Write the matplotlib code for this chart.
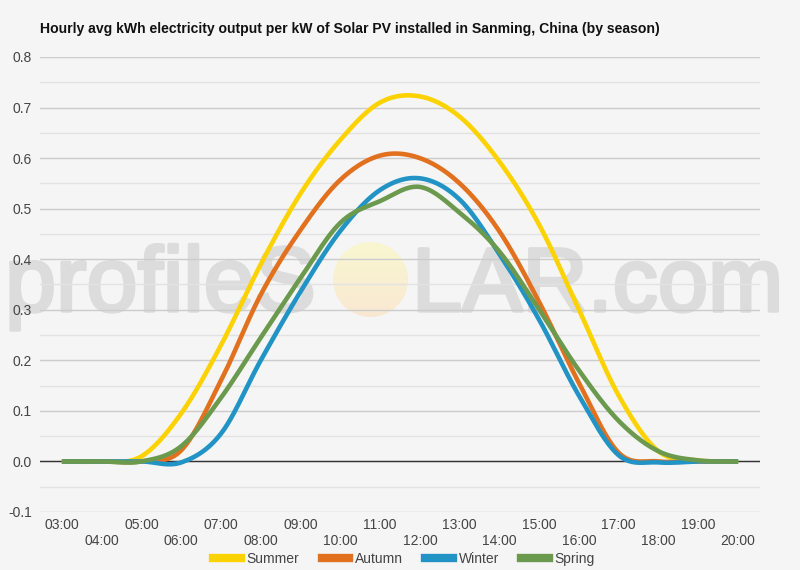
import numpy as np
import matplotlib
matplotlib.use('Agg')
import matplotlib.pyplot as plt
import matplotlib.patheffects as pe
from matplotlib.patches import Ellipse
from matplotlib.lines import Line2D

# Datos (kWh por kW instalado, promedio horario)
horas = ['03:00', '04:00', '05:00', '06:00', '07:00', '08:00', '09:00', '10:00', '11:00',
         '12:00', '13:00', '14:00', '15:00', '16:00', '17:00', '18:00', '19:00', '20:00']

summer = [0.0, 0.0, 0.01, 0.095, 0.23, 0.39, 0.53, 0.636, 0.71,
          0.722, 0.682, 0.593, 0.468, 0.30, 0.13, 0.02, 0.002, 0.0]
autumn = [0.0, 0.0, 0.0, 0.022, 0.16, 0.33, 0.458, 0.557, 0.605,
          0.60, 0.55, 0.455, 0.315, 0.155, 0.017, 0.0, 0.0, 0.0]
winter = [0.0, 0.0, 0.0, -0.002, 0.055, 0.20, 0.336, 0.456, 0.537,
          0.56, 0.518, 0.41, 0.28, 0.13, 0.012, -0.002, 0.0, 0.0]
spring = [0.0, 0.0, 0.0, 0.03, 0.126, 0.245, 0.363, 0.472, 0.515,
          0.543, 0.492, 0.415, 0.30, 0.18, 0.08, 0.02, 0.002, 0.0]

series = [('Summer', summer, '#fcd300'),
          ('Autumn', autumn, '#e2711f'),
          ('Winter', winter, '#2193c4'),
          ('Spring', spring, '#6b9a4e')]


# Curva suave tipo "function" (Catmull-Rom) solo para el trazado
def suavizar(x, y, n=24):
    x = np.asarray(x, float)
    y = np.asarray(y, float)
    xs, ys = [], []
    for i in range(len(x) - 1):
        i0 = max(i - 1, 0)
        i3 = min(i + 2, len(x) - 1)
        t = np.linspace(0, 1, n, endpoint=False)
        for arr, out in ((x, xs), (y, ys)):
            p0, p1, p2, p3 = arr[i0], arr[i], arr[i + 1], arr[i3]
            out.extend(0.5 * ((2 * p1) + (-p0 + p2) * t
                              + (2 * p0 - 5 * p1 + 4 * p2 - p3) * t ** 2
                              + (-p0 + 3 * p1 - 3 * p2 + p3) * t ** 3))
    xs.append(x[-1])
    ys.append(y[-1])
    return np.array(xs), np.array(ys)


plt.rcParams['font.family'] = ['Liberation Sans', 'DejaVu Sans']

fondo = '#f5f5f5'
fig = plt.figure(figsize=(8, 5.7), dpi=100, facecolor=fondo)
ax = fig.add_axes([0.05, 0.1018, 0.90, 0.7982])
ax.set_facecolor('none')
ax.set_zorder(1)

# Marca de agua
gris = '#dcdcdc'
trazo = [pe.withStroke(linewidth=2.5, foreground=gris)]
fig.text(5 / 800, (570 - 311) / 570, 'profileS', fontsize=66, color=gris,
         ha='left', va='baseline', zorder=0, path_effects=trazo)
fig.text(412 / 800, (570 - 311) / 570, 'LAR.com', fontsize=65, color=gris,
         ha='left', va='baseline', zorder=0, path_effects=trazo)

# Sol con degradado suave
sol_ax = fig.add_axes([333 / 800, (570 - 317) / 570, 75 / 800, 75 / 570])
sol_ax.set_zorder(0.5)
sol_ax.axis('off')
degradado = np.linspace(0, 1, 64).reshape(-1, 1)
arriba = np.array([248, 247, 208]) / 255
abajo = np.array([250, 232, 210]) / 255
img = arriba + (abajo - arriba) * degradado[..., None]
im = sol_ax.imshow(img, extent=(0, 1, 0, 1), origin='upper', aspect='auto')
circulo = Ellipse((0.5, 0.5), 1, 1, transform=sol_ax.transData, facecolor='none', edgecolor='none')
sol_ax.add_patch(circulo)
im.set_clip_path(circulo)
sol_ax.set_xlim(0, 1)
sol_ax.set_ylim(0, 1)

x = np.arange(len(horas))
for nombre, valores, color in series:
    xs, ys = suavizar(x, valores)
    ax.plot(xs, ys, color=color, lw=3.3, solid_capstyle='butt', label=nombre, zorder=3)

ax.axhline(0, color='#333333', lw=1, zorder=2)

ax.set_xlim(-0.55, 17.55)
ax.set_ylim(-0.1, 0.8)
ax.set_yticks(np.arange(-0.1, 0.81, 0.1))
ax.set_yticklabels([f'{v:.1f}' for v in np.arange(-0.1, 0.81, 0.1)])
ax.set_yticks(np.arange(-0.05, 0.8, 0.1), minor=True)
ax.grid(axis='y', which='major', color='#cccccc', lw=1)
ax.grid(axis='y', which='minor', color='#e2e2e2', lw=1)

ax.set_xticks(x[::2])
ax.set_xticklabels(horas[::2])
ax.set_xticks(x[1::2], minor=True)
ax.set_xticklabels(horas[1::2], minor=True)
ax.tick_params(axis='x', which='major', length=0, pad=4, labelsize=10, labelcolor='#444444')
ax.tick_params(axis='x', which='minor', length=0, pad=16, labelsize=10, labelcolor='#444444')
ax.tick_params(axis='y', which='both', length=0, pad=6, labelsize=10, labelcolor='#444444')

for s in ax.spines.values():
    s.set_visible(False)

fig.text(40 / 800, 1 - 29 / 570, 'Hourly avg kWh electricity output per kW of Solar PV installed in Sanming, China (by season)',
         fontsize=10.1, fontweight='bold', color='#111111', ha='left', va='center')

manejadores = [Line2D([0], [0], color=c, lw=6) for _, _, c in series]
fig.legend(manejadores, [s[0] for s in series], loc='center', bbox_to_anchor=(0.505, 1 - 559 / 570),
           ncol=4, frameon=False, fontsize=10, handlelength=2.0, handletextpad=0.4,
           columnspacing=1.6, labelcolor='#444444')

fig.savefig('out.png', dpi=100, facecolor=fondo)
